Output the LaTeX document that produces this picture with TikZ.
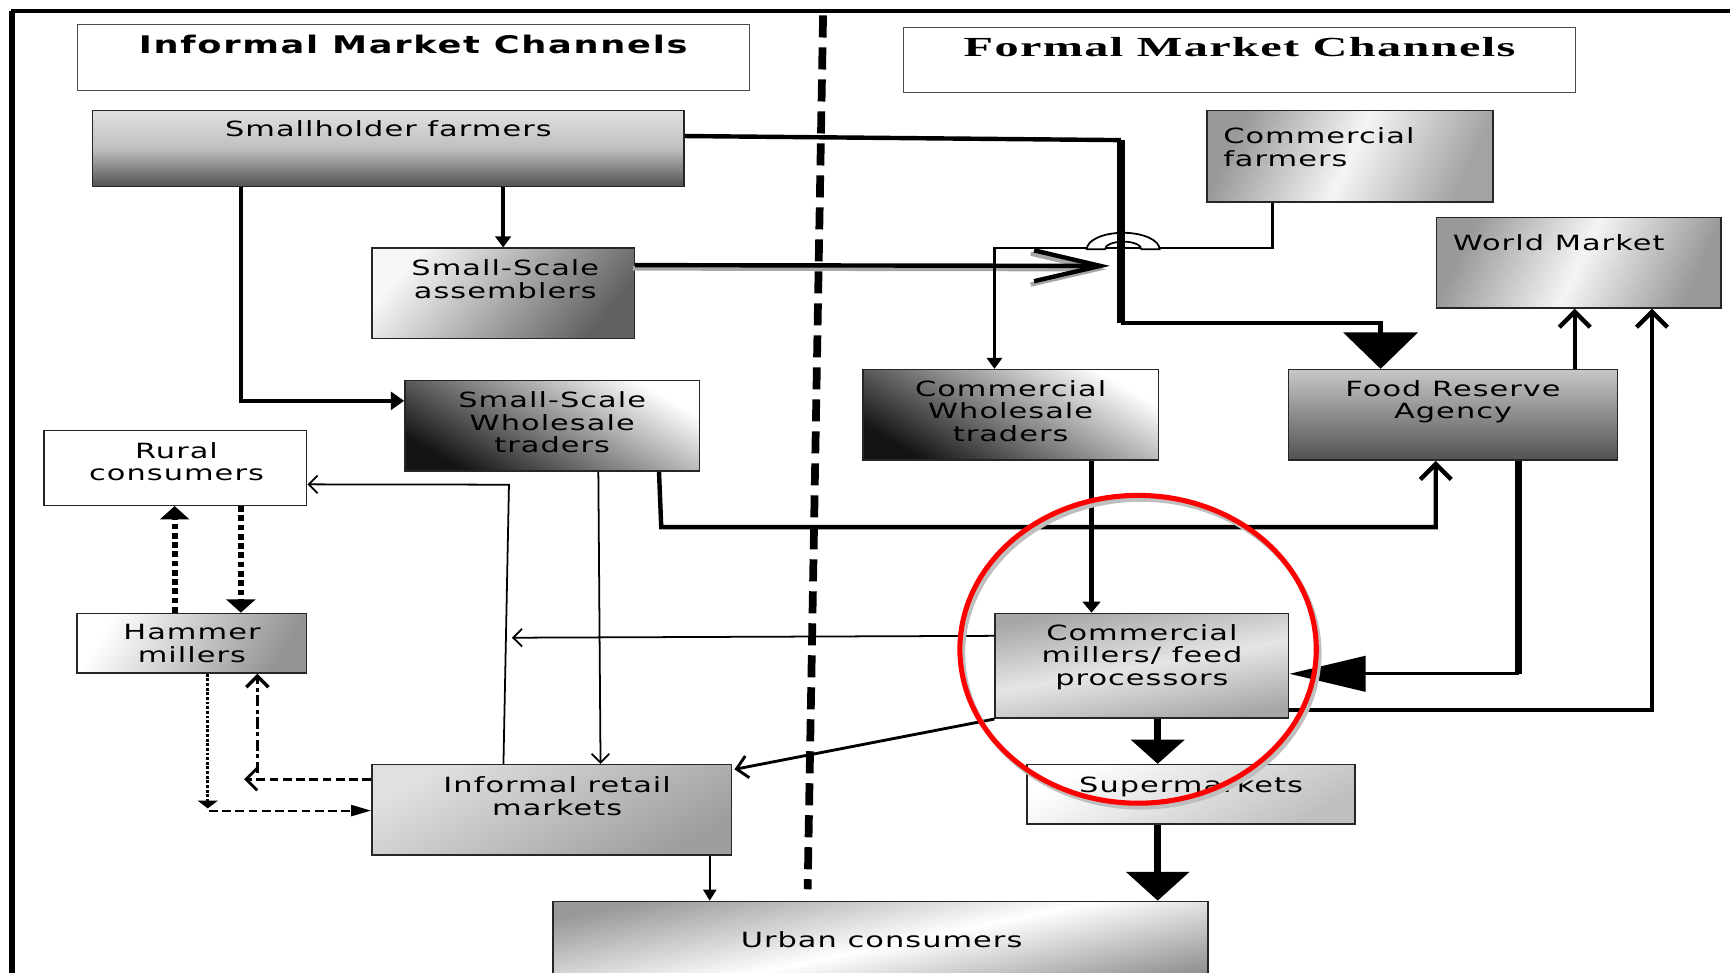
\documentclass[tikz,border=0pt]{standalone}
\usepackage{fontspec}
\setmainfont{DejaVu Sans}[FakeStretch=1.45,LetterSpace=5]
\newfontfamily\sanstitle{DejaVu Sans}[FakeStretch=1.45,LetterSpace=7]
\newfontfamily\seriftitle{Liberation Serif}[FakeStretch=1.75,LetterSpace=5]
\usetikzlibrary{arrows.meta,calc}

\begin{document}
\begin{tikzpicture}[x=0.5pt,y=0.5pt,yscale=-1,xscale=1,
  chbox/.style={draw=black!85,line width=0.7pt,inner sep=0pt},
  chtext/.style={inner sep=0pt,align=center,font=\fontsize{9.5}{10.3}\selectfont},
  thk/.style={line width=2pt},
  vthk/.style={line width=3.2pt},
  thn/.style={line width=0.8pt},
  dotthk/.style={line width=2.6pt,dash pattern=on 2.6pt off 1.6pt},
  dotthn/.style={line width=1.3pt,dash pattern=on 1.3pt off 0.8pt},
  dashthn/.style={line width=0.9pt,dash pattern=on 4pt off 2pt},
  dashmid/.style={line width=1.3pt,dash pattern=on 4pt off 2pt},
  dashdotmid/.style={line width=1.5pt,dash pattern=on 5pt off 1.5pt on 2pt off 1.5pt}]

\useasboundingbox (0,0) rectangle (1568,881);

% Frame
\draw[line width=3pt] (11,885) -- (11,10);
\draw[line width=2pt] (10,10) -- (1570,10);

% Text Node: titles
\node[chbox,draw=black!70,line width=0.6pt,minimum width=304.5pt,minimum height=30pt] (inf) at (374.5,52) {};
\node[inner sep=0pt,anchor=north,font=\sanstitle\bfseries\fontsize{11}{13}\selectfont] (inf-l) at ($(inf.north)+(0,10)$) {Informal Market Channels};
\node[chbox,draw=black!70,line width=0.6pt,minimum width=304.5pt,minimum height=29.5pt] (frm) at (1123.5,54.5) {};
\node[inner sep=0pt,anchor=north,font=\seriftitle\bfseries\fontsize{12.5}{14}\selectfont] (frm-l) at ($(frm.north)+(0,9)$) {Formal Market Channels};

% Divider
\draw[line width=3.5pt,dash pattern=on 10pt off 4.5pt] (746,14) -- (732,806);

% Shape: Rectangle (informal side)
\node[chbox,minimum width=268pt,minimum height=34.5pt,top color=black!12,bottom color=black!68,middle color=black!25] (sf) at (352,134.5) {};
\node[chtext,anchor=north] (sf-l) at ($(sf.north)+(0,10)$) {Smallholder farmers};
\node[chbox,minimum width=119pt,minimum height=41pt,top color=black!3,bottom color=black!62,shading angle=50] (ssa) at (456,266) {};
\node[chtext,anchor=north] (ssa-l) at ($(ssa.north)+(2,11)$) {Small-Scale\\assemblers};
\node[chbox,minimum width=133.5pt,minimum height=41pt,top color=white,bottom color=black!92,shading angle=-30] (sswt) at (500.5,386) {};
\node[chtext,anchor=north] (sswt-l) at ($(sswt.north)+(0,10)$) {Small-Scale\\Wholesale\\traders};
\node[chbox,minimum width=119pt,minimum height=34pt,fill=white] (rc) at (159,424) {};
\node[chtext,anchor=north] (rc-l) at ($(rc.north)+(1,11)$) {Rural\\consumers};
\node[chbox,minimum width=104pt,minimum height=27pt,top color=white,bottom color=black!42,shading angle=60] (hm) at (174,583) {};
\node[chtext,anchor=north] (hm-l) at ($(hm.north)+(0,10)$) {Hammer\\millers};
\node[chbox,minimum width=163pt,minimum height=41pt,top color=black!12,bottom color=black!38,shading angle=30] (irm) at (500,734) {};
\node[chtext,anchor=north] (irm-l) at ($(irm.north)+(5,11)$) {Informal retail\\markets};
\node[chbox,minimum width=297pt,minimum height=41pt,top color=black!40,bottom color=black!45,middle color=white,shading angle=12] (uc) at (798,858) {};
\node[chtext,anchor=north] (uc-l) at ($(uc.north)+(1,28)$) {Urban consumers};

% Shape: Rectangle (formal side)
\node[chbox,minimum width=129.5pt,minimum height=41.5pt,top color=black!40,bottom color=black!36,middle color=black!4,shading angle=65] (cf) at (1223.5,141.5) {};
\node[chtext,anchor=north west,align=left] (cf-l) at ($(cf.north west)+(15,16)$) {Commercial\\farmers};
\node[chbox,minimum width=129pt,minimum height=41pt,top color=black!40,bottom color=black!40,middle color=black!4,shading angle=65] (wm) at (1431,238) {};
\node[chtext,anchor=north west,align=left] (wm-l) at ($(wm.north west)+(15,16)$) {World Market};
\node[chbox,minimum width=134pt,minimum height=41pt,top color=white,bottom color=black!92,shading angle=-30] (cwt) at (916,376) {};
\node[chtext,anchor=north] (cwt-l) at ($(cwt.north)+(0,10)$) {Commercial\\Wholesale\\traders};
\node[chbox,minimum width=149pt,minimum height=41pt,top color=black!22,bottom color=black!68] (fra) at (1317,376) {};
\node[chtext,anchor=north] (fra-l) at ($(fra.north)+(0,10)$) {Food Reserve\\Agency};
\node[chbox,minimum width=133pt,minimum height=47.5pt,top color=black!35,bottom color=black!35,middle color=black!10,shading angle=10] (cmp) at (1035,603.5) {};
\node[chtext,anchor=north] (cmp-l) at ($(cmp.north)+(0,10)$) {Commercial\\millers/ feed\\processors};
\node[chbox,minimum width=148.5pt,minimum height=27pt,top color=white,bottom color=black!25,shading angle=30] (sm) at (1079.5,720) {};
\node[chtext,anchor=north] (sm-l) at ($(sm.north)+(0,11)$) {Supermarkets};

% Straight Lines: informal channels
\draw[thk,-{Triangle[length=5pt,width=7pt]}] (sf.south -| ssa.north) -- (ssa.north);
\draw[thk,-{Triangle[length=6pt,width=8pt]}] ($(sf.south west)+(135,0)$) |- ($(sswt.north west)+(0,19)$);
\draw[thk,black!35,-{Straight Barb[length=30pt,width=14pt]}] ($(ssa.north east)+(-2,19)$) -- (1003,244);
\coordinate (hub) at (1006,241);
\draw[thk,-{Straight Barb[length=30pt,width=14pt]}] ($(ssa.north east)+(0,16)$) -- (hub);
\draw[thn,-{Straight Barb[length=4pt,width=8pt]}] ($(sswt.south west)+(176,0)$) -- ($(irm.north west)+(208,0)$);
\draw[thn,-{Straight Barb[length=4pt,width=8pt]}] ($(irm.north west)+(120,0)$) -- ++(5,-253) -- ($(rc.east)+(0,15)$);
\draw[thn,-{Triangle[length=5pt,width=6pt]}] ($(irm.south west)+(307,0)$) coordinate (c17) -- (c17 |- uc.north);
\draw[dotthk,-{Triangle[length=6pt,width=13pt]}] ($(hm.north west)+(89,0)$) coordinate (c18) -- (c18 |- rc.south);
\draw[dotthk,-{Triangle[length=6pt,width=13pt]}] ($(rc.south west)+(179,0)$) coordinate (c19) -- (c19 |- hm.north);
\draw[dotthn,-{Triangle[length=3.5pt,width=9pt]}] ($(hm.south west)+(119,0)$) -- ++(0,122) coordinate (c20);
\draw[dashthn,-{Triangle[length=9pt,width=5pt]}] ($(c20)+(1,2)$) coordinate (c20b) -- (c20b -| irm.west);
\draw[dashmid,-{Straight Barb[length=5pt,width=10pt]}] ($(irm.north west)+(0,14)$) -- ++(-115,0) coordinate (c21);
\draw[dashdotmid,-{Straight Barb[length=5pt,width=10pt]}] ($(c21)+(12,-6)$) coordinate (c21b) -- (c21b |- hm.south);

% Straight Lines: formal channels
\draw[thn,line width=1.1pt,-{Triangle[length=5pt,width=7pt]}] ($(cf.south west)+(60,0)$) |- (1051,225) -- (985,225) -| ($(cwt.north west)+(120,0)$);
% Shape: Hop
\draw[line width=0.8pt,fill=white] (985,226) arc[start angle=180,end angle=360,x radius=33,y radius=15] -- (1034.5,226) arc[start angle=0,end angle=-180,x radius=16.5,y radius=7] -- cycle;
\draw[thk] ($(sf.north east)+(0,24)$) -- (1016,127) coordinate (j1);
\draw[vthk] (j1) -- (1016,293) coordinate (j2);
\draw[thk,-{Triangle[length=16.5pt,width=33.5pt]}] (j2) -| ($(fra.north west)+(84,0)$);
\draw[thk,-{Triangle[length=5pt,width=8pt]}] ($(cwt.south west)+(208,0)$) coordinate (c6) -- (c6 |- cmp.north);
\draw[thk,-{Straight Barb[length=7pt,width=14pt]}] ($(sswt.south west)+(231,0)$) -- ++(2,50) -| ($(fra.south west)+(134,0)$);
\draw[vthk] ($(fra.south west)+(209,0)$) -- ++(0,193) coordinate (c8);
\draw[line width=1.4pt,-{Triangle[length=34.5pt,width=16pt]}] (c8) -- (c8 -| cmp.east);
\draw[thk,-{Straight Barb[length=7pt,width=14pt]}] ($(fra.north west)+(260,0)$) coordinate (c9) -- (c9 |- wm.south);
\draw[thk,-{Straight Barb[length=7pt,width=14pt]}] ($(cmp.south east)+(0,-8)$) -| ($(wm.south west)+(196,0)$);
\draw[vthk,-{Triangle[length=11pt,width=24pt]}] ($(cmp.south west)+(148,0)$) coordinate (c11) -- (c11 |- sm.north);
\draw[vthk,-{Triangle[length=13pt,width=28pt]}] ($(sm.south west)+(119,0)$) coordinate (c12) -- (c12 |- uc.north);
\draw[thn,-{Straight Barb[length=4pt,width=8pt]}] ($(cmp.north west)+(0,21)$) -- (464,578) coordinate (c13);
\draw[line width=1.3pt,-{Straight Barb[length=5pt,width=10pt]}] (cmp.south west) -- ($(irm.north east)+(2,5)$);

% Shape: Ellipse
\draw[black!25,line width=2.3pt] (1034,592) ellipse [x radius=161.5,y radius=139.5];
\draw[red,line width=2.3pt] (1031.5,588.5) ellipse [x radius=161.5,y radius=139.5];

\end{tikzpicture}
\end{document}
